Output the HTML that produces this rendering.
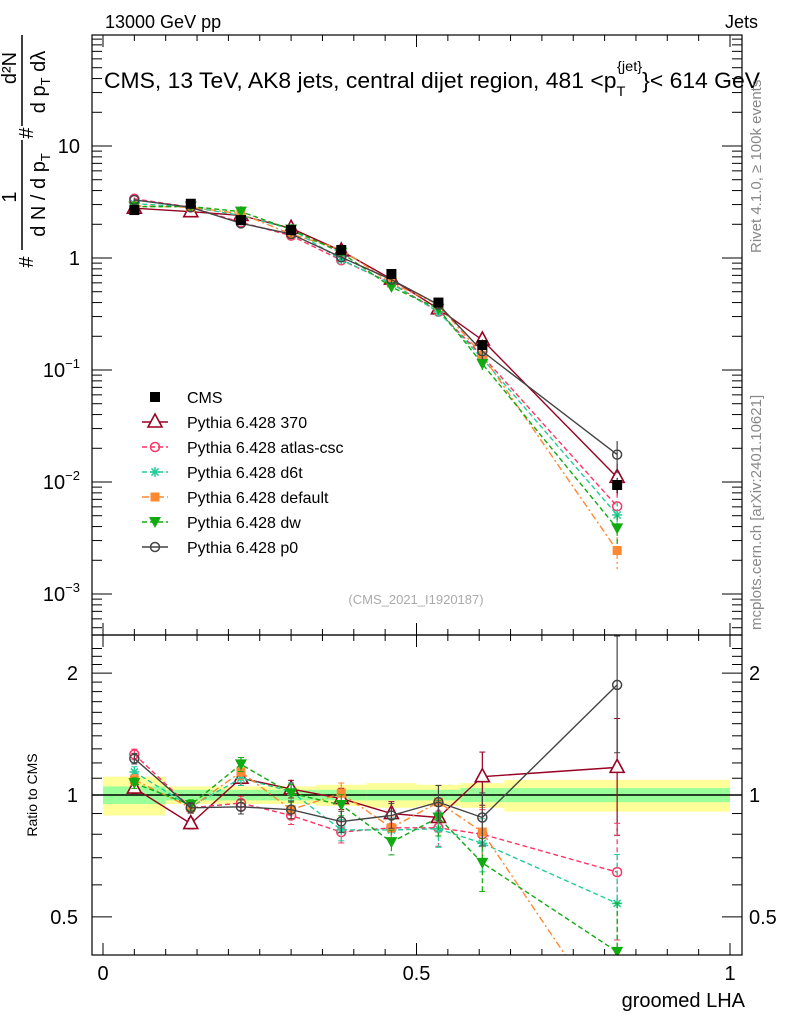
<!DOCTYPE html>
<html><head><meta charset="utf-8"><style>
html,body{margin:0;background:#fff;overflow:hidden;width:786px;height:1024px;}
svg{font-family:"Liberation Sans",sans-serif;display:block;}
</style></head><body>
<svg id="c" width="786" height="1024" viewBox="0 0 786 1024" xmlns="http://www.w3.org/2000/svg">
<defs>
<clipPath id="clipMain"><rect x="92" y="35" width="650" height="600"/></clipPath>
<clipPath id="clipRatio"><rect x="92" y="635" width="650" height="320"/></clipPath>
</defs>
<text x="105" y="28" font-size="18">13000 GeV pp</text>
<text x="758" y="28" font-size="18" text-anchor="end">Jets</text>
<text x="104" y="88" font-size="22" textLength="656" lengthAdjust="spacingAndGlyphs">CMS, 13 TeV, AK8 jets, central dijet region, 481 &lt;p<tspan font-size="14" dy="8">T</tspan><tspan font-size="14" dy="-25" dx="-8">{jet}</tspan><tspan dy="17">}&lt; 614 GeV</tspan></text>
<text x="416" y="604" font-size="13" fill="#aaa" text-anchor="middle">(CMS_2021_I1920187)</text>
<text transform="translate(761,253) rotate(-90)" font-size="15" fill="#888">Rivet 4.1.0, ≥ 100k events</text>
<text transform="translate(761,630) rotate(-90)" font-size="15" fill="#888">mcplots.cern.ch [arXiv:2401.10621]</text>
<g transform="translate(0,270) rotate(-90)" font-size="20">
<text x="8" y="33" text-anchor="middle">#</text>
<line x1="20" y1="22" x2="130" y2="22" stroke="#000" stroke-width="1.5"/>
<text x="73" y="16" text-anchor="middle">1</text>
<text x="75" y="45" text-anchor="middle">d N / d p<tspan font-size="13" dy="5">T</tspan></text>
<text x="137" y="33" text-anchor="middle">#</text>
<line x1="144" y1="22" x2="235" y2="22" stroke="#000" stroke-width="1.5"/>
<text x="202" y="16" text-anchor="middle">d²N</text>
<text x="188" y="45" text-anchor="middle">d p<tspan font-size="13" dy="5">T</tspan><tspan dy="-5"> dλ</tspan></text>
</g>
<text transform="translate(37,795) rotate(-90)" font-size="14" text-anchor="middle">Ratio to CMS</text>
<text x="745" y="1007" font-size="20" text-anchor="end">groomed LHA</text>
<g id="g"></g>
</svg>
<script>
const categories=[0.05,0.14,0.22,0.30,0.38,0.46,0.535,0.605,0.82];
const binEdges=[0,0.1,0.18,0.26,0.34,0.42,0.5,0.57,0.64,1.0];
const cmsValues=[2.68,3.05,2.18,1.78,1.18,0.72,0.40,0.167,0.0094];
const cmsErrors=[0.1,0.1,0.08,0.07,0.05,0.03,0.02,0.02,0.0015];
const statBand=[0.05,0.03,0.03,0.03,0.03,0.03,0.03,0.04,0.04];
const totalBand=[0.11,0.05,0.05,0.05,0.06,0.07,0.06,0.07,0.09];
const ratio370=[1.04,0.85,1.10,1.035,0.98,0.90,0.88,1.11,1.17];
const ratioAtlas=[1.26,0.93,0.955,0.89,0.81,0.83,0.83,0.80,0.645];
const ratioD6t=[1.14,0.935,1.10,1.02,0.82,0.82,0.825,0.76,0.54];
const ratioDefault=[1.09,0.93,1.14,0.92,1.01,0.83,0.96,0.81,0.26];
const ratioDw=[1.07,0.945,1.19,1.01,0.945,0.765,0.88,0.68,0.41];
const ratioP0=[1.23,0.93,0.935,0.92,0.86,0.89,0.96,0.88,1.87];
const mcRelErr=[0.03,0.03,0.04,0.05,0.06,0.07,0.1,0.15,0.32];
const seriesNames=["Pythia 6.428 370","Pythia 6.428 atlas-csc","Pythia 6.428 d6t","Pythia 6.428 default","Pythia 6.428 dw","Pythia 6.428 p0"];
const mainTicks=[1,-1,-2,-3];
const ratioTicks=["0.5","1","2"];
const xTicks=["0","0.5","1"];

const NS="http://www.w3.org/2000/svg";
const G=document.getElementById('g');
function el(t,a,p){const e=document.createElementNS(NS,t);for(const k in a)e.setAttribute(k,a[k]);(p||G).appendChild(e);return e;}
const X=v=>103+v*627;
const YM=v=>258-Math.log10(v)*112;
const YR=v=>795-Math.log10(v)*405;
const L0=92,R0=742;
const styles=[
 {c:"#990022",d:"",m:"triUp"},
 {c:"#ff3366",d:"5,3",m:"circ"},
 {c:"#22cc99",d:"5,3",m:"star"},
 {c:"#ff8833",d:"7,3,2,3",m:"sq"},
 {c:"#11aa11",d:"5,3",m:"triDn"},
 {c:"#444444",d:"",m:"circ"}];
const ratios=[ratio370,ratioAtlas,ratioD6t,ratioDefault,ratioDw,ratioP0];

function marker(m,x,y,c,parent,name){
 let e;
 if(m=="triUp")e=el('polygon',{points:`${x-7},${y+5} ${x+7},${y+5} ${x},${y-8}`,fill:"#fff",stroke:c,"stroke-width":1.6},parent);
 else if(m=="triDn")e=el('polygon',{points:`${x-6},${y-5} ${x+6},${y-5} ${x},${y+6}`,fill:c},parent);
 else if(m=="circ")e=el('circle',{cx:x,cy:y,r:4.5,fill:"none",stroke:c,"stroke-width":1.5},parent);
 else if(m=="sq")e=el('rect',{x:x-4.5,y:y-4.5,width:9,height:9,fill:c},parent);
 else if(m=="sqB")e=el('rect',{x:x-5,y:y-5,width:10,height:10,fill:c},parent);
 else {e=el('g',{stroke:c,"stroke-width":1.5},parent);
  for(let a=0;a<4;a++){const t=a*Math.PI/4;el('line',{x1:x-5*Math.cos(t),y1:y-5*Math.sin(t),x2:x+5*Math.cos(t),y2:y+5*Math.sin(t)},e);}}
 
 
 return e;
}

const bandG=el('g',{"clip-path":"url(#clipRatio)"});


for(let i=0;i<categories.length;i++){
 const x1=X(binEdges[i]),x2=X(binEdges[i+1]);
 const ry=el('rect',{x:x1,y:YR(1+totalBand[i]),width:x2-x1,height:YR(1-totalBand[i])-YR(1+totalBand[i]),fill:"#ffff99"},bandG);
 
 
 const rg=el('rect',{x:x1,y:YR(1+statBand[i]),width:x2-x1,height:YR(1-statBand[i])-YR(1+statBand[i]),fill:"#99ff99"},bandG);
 
 
}
const one=el('line',{x1:L0,x2:R0,y1:YR(1),y2:YR(1),stroke:"#000","stroke-width":1.5});



const mainG=el('g',{"clip-path":"url(#clipMain)"});
const ratG=el('g',{"clip-path":"url(#clipRatio)"});
ratios.forEach((r,s)=>{
 const st=styles[s];
 const mv=r.map((v,i)=>v*cmsValues[i]);
 const gm=el('g',{},mainG);
 
 
 el('polyline',{points:mv.map((v,i)=>X(categories[i])+","+YM(v)).join(" "),fill:"none",stroke:st.c,"stroke-width":1.4,"stroke-dasharray":st.d},gm);
 mv.forEach((v,i)=>{el('line',{x1:X(categories[i]),x2:X(categories[i]),y1:YM(v*(1+mcRelErr[i])),y2:YM(v*(1-mcRelErr[i])),stroke:st.c,"stroke-width":1.2,"stroke-dasharray":st.d},gm);
  marker(st.m,X(categories[i]),YM(v),st.c,gm,'point');});
 const gr=el('g',{},ratG);
 
 
 el('polyline',{points:r.map((v,i)=>X(categories[i])+","+YR(v)).join(" "),fill:"none",stroke:st.c,"stroke-width":1.4,"stroke-dasharray":st.d},gr);
 r.forEach((v,i)=>{const x=X(categories[i]);const a=YR(v*(1+mcRelErr[i])),b=YR(v*(1-mcRelErr[i]));
  el('line',{x1:x,x2:x,y1:a,y2:b,stroke:st.c,"stroke-width":1.2,"stroke-dasharray":st.d},gr);
  el('line',{x1:x-3,x2:x+3,y1:a,y2:a,stroke:st.c},gr);el('line',{x1:x-3,x2:x+3,y1:b,y2:b,stroke:st.c},gr);
  marker(st.m,x,YR(v),st.c,gr,'ratio-point');});
});
const cg=el('g',{},mainG);


cmsValues.forEach((v,i)=>{el('line',{x1:X(categories[i]),x2:X(categories[i]),y1:YM(v+cmsErrors[i]),y2:YM(v-cmsErrors[i]),stroke:"#000"},cg);
 marker("sqB",X(categories[i]),YM(v),"#000",cg,'cms-point');});

[[35,600],[635,320]].forEach(([y,h],k)=>{const f=el('rect',{x:L0,y:y,width:R0-L0,height:h,fill:"none",stroke:"#000","stroke-width":1.2});
 });
for(let d=-4;d<=1;d++){for(let m=1;m<10;m++){const v=m*Math.pow(10,d);const y=YM(v);if(y<35||y>635)continue;const L=m==1?20:10;
 el('line',{x1:L0,x2:L0+L,y1:y,y2:y,stroke:"#000"});el('line',{x1:R0,x2:R0-L,y1:y,y2:y,stroke:"#000"});}}
mainTicks.forEach(p=>{const y=YM(Math.pow(10,p));let t;
 if(p==1){t=el('text',{x:80,y:y+7,"font-size":20,"text-anchor":"end"});t.textContent="10";}
 else{t=el('text',{x:80,y:y+7,"font-size":20,"text-anchor":"end"});t.innerHTML='10<tspan font-size="13" dy="-9">−'+(-p)+'</tspan>';}
 });
{const t=el('text',{x:80,y:YM(1)+7,"font-size":20,"text-anchor":"end"});t.textContent="1";
}
[0.5,0.6,0.7,0.8,0.9,1,1.1,1.2,1.3,1.4,1.5,1.6,1.7,1.8,1.9,2,2.1,2.2,2.3].forEach(v=>{const y=YR(v);if(y<635||y>955)return;const L=(v==0.5||v==1||v==2)?20:10;
 el('line',{x1:L0,x2:L0+L,y1:y,y2:y,stroke:"#000"});el('line',{x1:R0,x2:R0-L,y1:y,y2:y,stroke:"#000"});});
ratioTicks.forEach(s=>{const y=YR(parseFloat(s))+7;
 const t=el('text',{x:78,y:y,"font-size":20,"text-anchor":"end"});t.textContent=s;
 
 const t2=el('text',{x:749,y:y,"font-size":20});t2.textContent=s;
 });
for(let k=0;k<=20;k++){const v=k*0.05;const x=X(v);if(x>R0)continue;const L=k%10==0?12:6;
 [[35,1],[635,-1],[635,1],[955,-1]].forEach(([y,s])=>el('line',{x1:x,x2:x,y1:y,y2:y+s*L,stroke:"#000"}));}
xTicks.forEach(s=>{const t=el('text',{x:X(parseFloat(s)),y:980,"font-size":20,"text-anchor":"middle"});t.textContent=s;
 });
const lg=el('g',{});


{const e=el('g',{},lg);
 marker("sqB",155,397,"#000",e,'legend-marker');const t=el('text',{x:187,y:403,"font-size":16},e);t.textContent="CMS";}
seriesNames.forEach((n,s)=>{const y=422+25*s;const st=styles[s];const e=el('g',{},lg);
 
 el('line',{x1:142,x2:168,y1:y,y2:y,stroke:st.c,"stroke-width":1.4,"stroke-dasharray":st.d},e);
 marker(st.m,155,y,st.c,e,'legend-marker');
 const t=el('text',{x:187,y:y+6,"font-size":16},e);t.textContent=n;});
</script>
</body></html>
